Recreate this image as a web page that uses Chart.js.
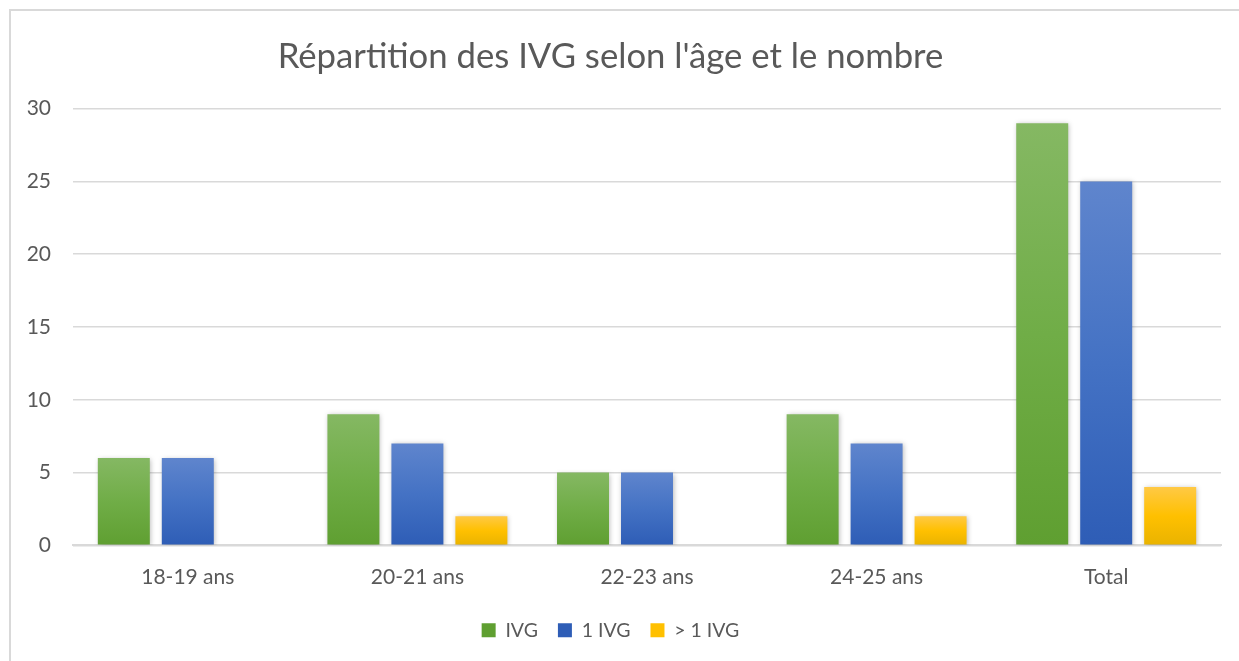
<!DOCTYPE html>
<html>
<head>
<meta charset="utf-8">
<script src="https://cdn.jsdelivr.net/npm/chart.js@4.4.1/dist/chart.umd.min.js"></script>
<style>
  html, body { margin: 0; padding: 0; background: #fff; }
  #wrap { position: relative; width: 1239px; height: 661px; overflow: hidden; }
  #frame { position: absolute; left: 9px; top: 9px; width: 1300px; height: 700px;
           border-top: 2px solid #d9d9d9; border-left: 2px solid #d9d9d9; box-sizing: border-box; }
  #c { position: absolute; left: 0; top: 0; }
</style>
</head>
<body>
<div id="wrap">
  <div id="frame"></div>
  <canvas id="c" width="1239" height="661"></canvas>
</div>
<script>
const categories = ["18-19 ans", "20-21 ans", "22-23 ans", "24-25 ans", "Total"];
const ivg      = [6, 9, 5, 9, 29];
const ivgOne   = [6, 7, 5, 7, 25];
const ivgMore  = [0, 2, 0, 2, 4];

const FONT = "Lato, 'Open Sans', sans-serif";
const TEXT = "#595959";

// each bar gets its own vertical gradient, light at its top, darker at the base
function grad(top, mid, bottom, flat) {
  return (c) => {
    const chart = c.chart;
    const area = chart.chartArea;
    if (!area || c.type !== "data") return flat;
    const v = c.dataset.data[c.dataIndex];
    const yTop = chart.scales.y.getPixelForValue(v);
    const yBot = chart.scales.y.getPixelForValue(0);
    if (!(yBot - yTop > 1)) return flat;
    const g = chart.ctx.createLinearGradient(0, yTop, 0, yBot);
    g.addColorStop(0, top);
    g.addColorStop(0.5, mid);
    g.addColorStop(1, bottom);
    return g;
  };
}

const shadowPlugin = {
  id: "barShadow",
  beforeDatasetsDraw(chart) {
    const ctx = chart.ctx;
    ctx.save();
    ctx.shadowColor = "rgba(0,0,0,0.28)";
    ctx.shadowBlur = 5;
    ctx.shadowOffsetX = 1;
    ctx.shadowOffsetY = 1;
  },
  afterDatasetsDraw(chart) {
    chart.ctx.restore();
  },
};

const ctx = document.getElementById("c").getContext("2d");
new Chart(ctx, {
  type: "bar",
  data: {
    labels: categories,
    datasets: [
      { label: "IVG",     data: ivg,     backgroundColor: grad("#85b863", "#70ad47", "#5f9f31", "#70ad47") },
      { label: "1 IVG",   data: ivgOne,  backgroundColor: grad("#5f85cd", "#4472c4", "#2e5db6", "#4472c4") },
      { label: "> 1 IVG", data: ivgMore, backgroundColor: grad("#ffc945", "#ffc000", "#e9b300", "#ffc000") },
    ],
  },
  options: {
    responsive: false,
    animation: false,
    categoryPercentage: 0.836,
    barPercentage: 0.8125,
    layout: { padding: { left: 0, right: 18, top: 0, bottom: 11 } },
    plugins: {
      title: {
        display: true,
        text: "Répartition des IVG selon l'âge et le nombre",
        color: TEXT,
        font: { family: FONT, size: 34.7, weight: "normal" },
        padding: { top: 36, bottom: 31 },
      },
      legend: {
        position: "bottom",
        labels: {
          color: TEXT,
          font: { family: FONT, size: 19.5 },
          boxWidth: 14,
          boxHeight: 14,
          padding: 20,
        },
      },
      tooltip: { enabled: false },
    },
    scales: {
      x: {
        grid: { display: false },
        border: { color: "#d9d9d9", width: 2 },
        ticks: { color: TEXT, font: { family: FONT, size: 21 }, padding: 11 },
      },
      y: {
        min: 0,
        max: 30,
        afterFit(scale) { scale.width = 73; },
        ticks: { stepSize: 5, color: TEXT, font: { family: FONT, size: 21 }, padding: 22 },
        grid: { color: "#d9d9d9", lineWidth: 1.5, drawTicks: false },
        border: { display: false },
      },
    },
  },
  plugins: [shadowPlugin],
});
</script>
</body>
</html>
